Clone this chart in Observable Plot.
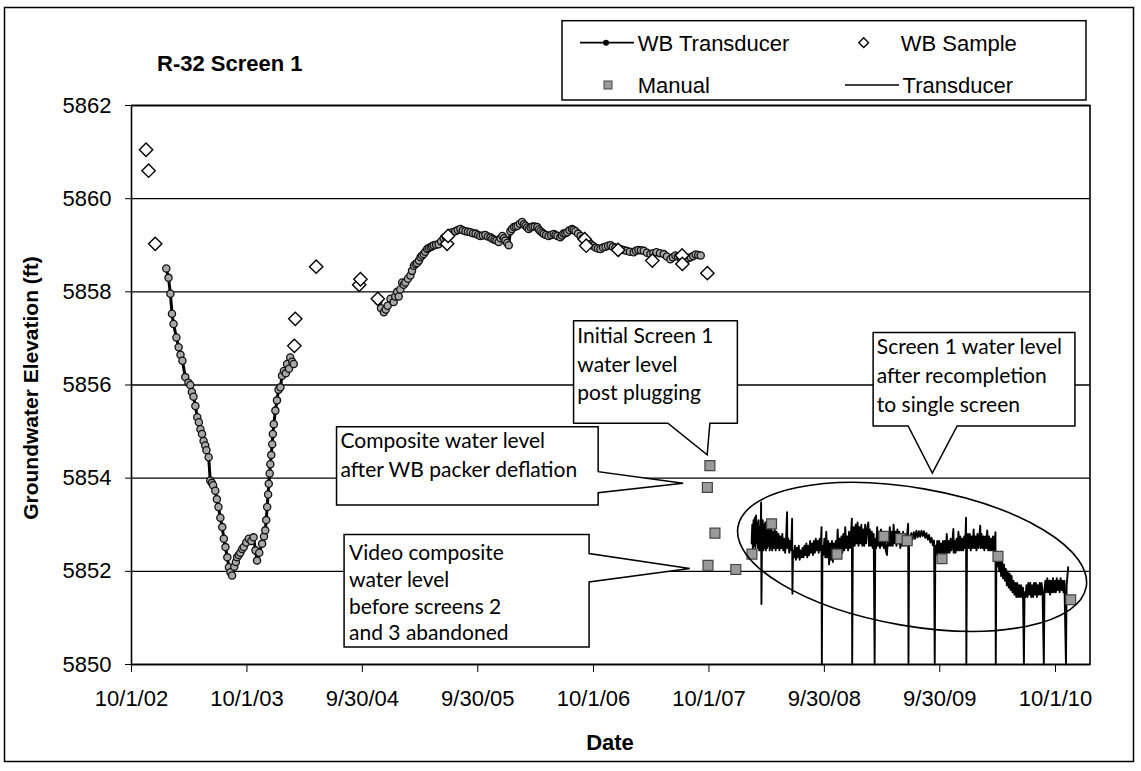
<!DOCTYPE html>
<html>
<head>
<meta charset="utf-8">
<script src="https://cdn.jsdelivr.net/npm/d3@7"></script>
<script src="https://cdn.jsdelivr.net/npm/@observablehq/plot@0.6"></script>
<style>
  body { margin: 0; background: #fff; }
  #chart { position: relative; width: 1141px; height: 771px; }
</style>
</head>
<body>
<div id="chart"></div>
<script>
// ---------------- DATA ----------------
const titleText = "R-32 Screen 1";
const yLabel = "Groundwater Elevation (ft)";
const xLabel = "Date";
const xStart = "2002-10-01";
const xEnd = "2011-01-18";
const yTicks = [5850, 5852, 5854, 5856, 5858, 5860, 5862];
const xTickDates = ["2002-10-01","2003-10-01","2004-09-30","2005-09-30","2006-10-01","2007-10-01","2008-09-30","2009-09-30","2010-10-01"];
const xTickLabels = ["10/1/02","10/1/03","9/30/04","9/30/05","10/1/06","10/1/07","9/30/08","9/30/09","10/1/10"];
const seriesNames = ["WB Transducer", "WB Sample", "Manual", "Transducer"];

// WB Transducer, first deployment [date, elevation]
const wbTransducer1 = [
["2003-01-19",5858.5],["2003-01-26",5858.3],["2003-02-01",5857.96],["2003-02-06",5857.53],["2003-02-11",5857.31],["2003-02-20",5857.02],["2003-02-27",5856.81],["2003-03-05",5856.65],["2003-03-11",5856.52],["2003-03-20",5856.17],["2003-03-30",5856.05],["2003-04-05",5856.0],["2003-04-10",5855.85],["2003-04-15",5855.75],["2003-04-21",5855.55],["2003-04-27",5855.31],["2003-05-02",5855.2],["2003-05-07",5855.05],["2003-05-12",5854.95],["2003-05-17",5854.8],["2003-05-22",5854.7],["2003-05-26",5854.6],["2003-06-02",5854.45],["2003-06-07",5853.95],["2003-06-12",5853.9],["2003-06-16",5853.85],["2003-06-23",5853.73],["2003-06-28",5853.55],["2003-07-03",5853.38],["2003-07-09",5853.15],["2003-07-15",5852.95],["2003-07-20",5852.7],["2003-07-25",5852.52],["2003-07-31",5852.3],["2003-08-05",5852.09],["2003-08-10",5851.98],["2003-08-15",5851.91],["2003-08-22",5852.1],["2003-08-27",5852.2],["2003-08-31",5852.3],["2003-09-05",5852.35],["2003-09-10",5852.4],["2003-09-16",5852.48],["2003-09-21",5852.52],["2003-09-29",5852.62],["2003-10-07",5852.7],["2003-10-15",5852.65],["2003-10-22",5852.73],["2003-10-28",5852.45],["2003-11-02",5852.23],["2003-11-09",5852.4],["2003-11-18",5852.59],["2003-11-24",5852.75],["2003-11-28",5852.88],["2003-12-01",5853.1],["2003-12-04",5853.38],["2003-12-07",5853.65],["2003-12-09",5853.88],["2003-12-12",5854.1],["2003-12-14",5854.3],["2003-12-17",5854.5],["2003-12-20",5854.73],["2003-12-22",5854.95],["2003-12-25",5855.16],["2003-12-30",5855.45],["2004-01-04",5855.67],["2004-01-09",5855.9],["2004-01-15",5855.95],["2004-01-20",5856.2],["2004-01-26",5856.3],["2004-02-01",5856.25],["2004-02-05",5856.45],["2004-02-11",5856.35],["2004-02-15",5856.59],["2004-02-21",5856.5],["2004-02-26",5856.45]
];
// WB Transducer, second deployment [date, elevation]
const wbTransducer2 = [
["2004-11-20",5857.8],["2004-11-28",5857.65],["2004-12-07",5857.56],["2004-12-13",5857.62],["2004-12-19",5857.7],["2004-12-28",5857.85],["2005-01-07",5857.78],["2005-01-12",5857.9],["2005-01-18",5858.0],["2005-01-23",5857.9],["2005-01-28",5858.05],["2005-02-03",5858.2],["2005-02-08",5858.15],["2005-02-13",5858.2],["2005-02-21",5858.28],["2005-03-01",5858.35],["2005-03-06",5858.45],["2005-03-12",5858.56],["2005-03-17",5858.6],["2005-03-22",5858.62],["2005-03-28",5858.67],["2005-04-02",5858.74],["2005-04-07",5858.78],["2005-04-12",5858.81],["2005-04-17",5858.86],["2005-04-23",5858.92],["2005-04-28",5858.94],["2005-05-04",5858.96],["2005-05-09",5858.98],["2005-05-14",5859.0],["2005-05-21",5859.01],["2005-05-29",5859.02],["2005-06-06",5859.08],["2005-06-14",5859.15],["2005-06-21",5859.18],["2005-06-29",5859.2],["2005-07-05",5859.25],["2005-07-11",5859.28],["2005-07-21",5859.3],["2005-07-29",5859.33],["2005-08-06",5859.35],["2005-08-14",5859.32],["2005-08-22",5859.3],["2005-08-30",5859.29],["2005-09-07",5859.28],["2005-09-15",5859.26],["2005-09-23",5859.25],["2005-10-01",5859.22],["2005-10-08",5859.2],["2005-10-16",5859.21],["2005-10-24",5859.22],["2005-11-01",5859.19],["2005-11-09",5859.17],["2005-11-15",5859.14],["2005-11-22",5859.12],["2005-11-28",5859.1],["2005-12-05",5859.07],["2005-12-11",5859.15],["2005-12-17",5859.2],["2005-12-22",5859.15],["2005-12-26",5859.1],["2006-01-01",5859.05],["2006-01-06",5859.0],["2006-01-11",5859.3],["2006-01-16",5859.35],["2006-01-22",5859.39],["2006-01-28",5859.4],["2006-02-03",5859.42],["2006-02-10",5859.46],["2006-02-17",5859.5],["2006-02-23",5859.45],["2006-02-28",5859.42],["2006-03-05",5859.38],["2006-03-10",5859.35],["2006-03-16",5859.38],["2006-03-22",5859.4],["2006-03-29",5859.4],["2006-04-06",5859.39],["2006-04-11",5859.34],["2006-04-16",5859.3],["2006-04-22",5859.27],["2006-04-27",5859.24],["2006-05-04",5859.22],["2006-05-12",5859.2],["2006-05-20",5859.22],["2006-05-28",5859.24],["2006-06-03",5859.22],["2006-06-09",5859.2],["2006-06-18",5859.17],["2006-06-23",5859.21],["2006-06-28",5859.25],["2006-07-04",5859.26],["2006-07-10",5859.28],["2006-07-17",5859.32],["2006-07-25",5859.35],["2006-07-30",5859.33],["2006-08-05",5859.3],["2006-08-13",5859.25],["2006-08-21",5859.2],["2006-08-28",5859.15],["2006-09-05",5859.1],["2006-09-13",5859.06],["2006-09-21",5859.03],["2006-09-29",5858.99],["2006-10-07",5858.95],["2006-10-15",5858.93],["2006-10-23",5858.92],["2006-10-31",5858.95],["2006-11-08",5858.97],["2006-11-16",5858.99],["2006-11-24",5859.0],["2006-12-01",5858.97],["2006-12-09",5858.95],["2006-12-17",5858.93],["2006-12-25",5858.92],["2007-01-03",5858.9],["2007-01-13",5858.88],["2007-01-24",5858.86],["2007-02-05",5858.85],["2007-02-12",5858.88],["2007-02-20",5858.9],["2007-02-28",5858.89],["2007-03-09",5858.88],["2007-03-19",5858.84],["2007-03-30",5858.81],["2007-04-08",5858.83],["2007-04-18",5858.85],["2007-04-29",5858.83],["2007-05-11",5858.81],["2007-05-21",5858.76],["2007-06-01",5858.7],["2007-06-09",5858.74],["2007-06-17",5858.78],["2007-06-25",5858.76],["2007-07-03",5858.74],["2007-07-11",5858.72],["2007-07-19",5858.7],["2007-07-27",5858.72],["2007-08-04",5858.74],["2007-08-12",5858.77],["2007-08-20",5858.8],["2007-08-28",5858.79],["2007-09-05",5858.78]
];
// WB Sample [date, elevation]
const wbSample = [
["2002-11-16",5861.05],["2002-11-24",5860.6],["2002-12-15",5859.03],["2004-02-28",5856.84],["2004-03-02",5857.42],["2004-05-07",5858.54],["2004-09-20",5858.15],["2004-09-24",5858.27],["2004-11-18",5857.85],["2005-06-25",5859.03],["2005-06-28",5859.2],["2006-09-03",5859.13],["2006-09-08",5858.99],["2006-12-18",5858.9],["2007-04-05",5858.67],["2007-07-08",5858.78],["2007-07-09",5858.6],["2007-09-26",5858.4]
];
// Manual [date, elevation]
const manual = [
["2007-10-04",5854.27],["2007-09-26",5853.8],["2007-10-20",5852.82],["2007-09-28",5852.13],["2007-12-25",5852.04],["2008-02-14",5852.37],["2008-04-16",5853.02],["2008-11-09",5852.37],["2009-04-06",5852.75],["2009-05-29",5852.7],["2009-06-19",5852.66],["2009-10-07",5852.27],["2010-04-02",5852.32],["2010-11-18",5851.39]
];
// Transducer [date, elevation]
const transducer = [
["2008-02-13",5852.6],["2008-02-15",5853.0],["2008-02-17",5852.45],["2008-02-19",5853.1],["2008-02-21",5852.55],["2008-02-23",5853.15],["2008-02-25",5852.5],["2008-02-27",5853.2],["2008-02-29",5852.6],["2008-03-02",5853.05],["2008-03-04",5852.5],["2008-03-06",5853.1],["2008-03-08",5852.45],["2008-03-10",5852.95],["2008-03-12",5852.45],["2008-03-14",5853.48],["2008-03-15",5851.3],["2008-03-17",5852.8],["2008-03-19",5853.1],["2008-03-21",5852.45],["2008-03-23",5853.0],["2008-03-25",5852.5],["2008-03-27",5853.05],["2008-03-29",5852.45],["2008-03-31",5852.95],["2008-04-02",5852.5],["2008-04-04",5853.0],["2008-04-06",5852.55],["2008-04-08",5852.95],["2008-04-10",5852.45],["2008-04-12",5852.95],["2008-04-14",5852.5],["2008-04-16",5852.9],["2008-04-18",5852.45],["2008-04-20",5852.85],["2008-04-23",5852.5],["2008-04-26",5852.9],["2008-04-29",5852.45],["2008-05-02",5852.85],["2008-05-05",5852.5],["2008-05-08",5852.8],["2008-05-11",5852.45],["2008-05-14",5852.75],["2008-05-17",5852.5],["2008-05-20",5852.8],["2008-05-23",5852.45],["2008-05-26",5852.7],["2008-05-29",5852.4],["2008-06-01",5852.7],["2008-06-04",5853.27],["2008-06-05",5852.5],["2008-06-08",5852.7],["2008-06-11",5852.4],["2008-06-14",5852.65],["2008-06-17",5852.45],["2008-06-20",5853.13],["2008-06-21",5851.52],["2008-06-23",5852.45],
["2008-06-26",5852.3],["2008-06-29",5852.55],["2008-07-02",5852.25],["2008-07-05",5852.5],["2008-07-08",5852.3],["2008-07-11",5852.55],["2008-07-14",5852.25],["2008-07-17",5852.45],["2008-07-20",5852.3],["2008-07-23",5852.5],["2008-07-26",5852.3],["2008-07-29",5852.55],["2008-08-01",5852.35],["2008-08-04",5852.6],["2008-08-07",5852.3],["2008-08-10",5852.55],["2008-08-13",5852.35],["2008-08-16",5852.65],["2008-08-19",5852.4],["2008-08-22",5852.6],["2008-08-25",5852.35],["2008-08-28",5852.65],["2008-08-31",5852.4],["2008-09-03",5852.7],["2008-09-06",5852.45],["2008-09-09",5852.65],["2008-09-12",5852.4],["2008-09-15",5852.7],["2008-09-18",5852.45],["2008-09-21",5852.95],["2008-09-22",5850.0],["2008-09-24",5852.55],
["2008-09-27",5852.35],["2008-09-30",5852.7],["2008-10-03",5852.3],["2008-10-06",5852.85],["2008-10-09",5852.3],["2008-10-12",5852.65],["2008-10-15",5852.15],["2008-10-18",5852.6],["2008-10-21",5852.25],["2008-10-24",5852.65],["2008-10-27",5852.2],["2008-10-30",5852.6],["2008-11-02",5852.3],["2008-11-05",5852.65],["2008-11-08",5852.35],["2008-11-11",5852.9],["2008-11-14",5852.4],["2008-11-17",5852.7],["2008-11-20",5852.35],["2008-11-23",5852.75],["2008-11-26",5852.4],["2008-11-29",5852.8],["2008-12-02",5852.45],["2008-12-05",5852.95],["2008-12-08",5852.5],["2008-12-11",5852.75],["2008-12-14",5852.45],["2008-12-17",5852.85],["2008-12-20",5852.5],["2008-12-23",5852.8],["2008-12-26",5853.13],["2008-12-27",5850.0],["2008-12-29",5852.6],
["2009-01-01",5852.95],["2009-01-04",5852.55],["2009-01-07",5853.0],["2009-01-10",5852.6],["2009-01-13",5853.05],["2009-01-16",5852.55],["2009-01-19",5852.95],["2009-01-22",5852.6],["2009-01-25",5853.0],["2009-01-28",5852.55],["2009-01-31",5852.9],["2009-02-03",5852.55],["2009-02-06",5853.0],["2009-02-09",5852.6],["2009-02-12",5852.9],["2009-02-16",5853.05],["2009-02-18",5852.55],["2009-02-21",5852.9],["2009-02-24",5852.55],["2009-02-27",5852.85],["2009-03-02",5852.5],["2009-03-05",5852.8],["2009-03-08",5850.0],["2009-03-10",5852.7],
["2009-03-13",5852.5],["2009-03-16",5852.95],["2009-03-19",5852.55],["2009-03-22",5852.85],["2009-03-25",5852.5],["2009-03-28",5852.9],["2009-03-31",5852.55],["2009-04-03",5852.85],["2009-04-06",5852.5],["2009-04-09",5852.8],["2009-04-12",5852.45],["2009-04-16",5852.35],["2009-04-19",5852.8],["2009-04-22",5852.55],["2009-04-25",5852.95],["2009-04-28",5852.55],["2009-05-01",5852.85],["2009-05-04",5852.55],["2009-05-07",5853.0],["2009-05-10",5852.6],["2009-05-13",5852.85],["2009-05-16",5852.55],["2009-05-19",5852.9],["2009-05-22",5852.6],["2009-05-25",5852.85],["2009-05-28",5852.5],["2009-05-31",5852.8],["2009-06-03",5852.55],["2009-06-06",5852.85],["2009-06-09",5852.55],["2009-06-12",5852.8],["2009-06-15",5852.55],["2009-06-18",5852.75],["2009-06-22",5853.02],["2009-06-23",5850.0],["2009-06-25",5852.7],
["2009-06-28",5852.68],["2009-07-02",5852.82],["2009-07-06",5852.68],["2009-07-10",5852.84],["2009-07-14",5852.7],["2009-07-18",5852.87],["2009-07-22",5852.73],["2009-07-26",5852.86],["2009-07-30",5852.74],["2009-08-03",5852.87],["2009-08-07",5852.76],["2009-08-11",5852.86],["2009-08-15",5852.72],["2009-08-19",5852.82],["2009-08-23",5852.68],["2009-08-27",5852.78],["2009-08-31",5852.62],["2009-09-04",5852.72],["2009-09-08",5852.56],["2009-09-12",5852.66],["2009-09-14",5850.0],["2009-09-16",5852.55],
["2009-09-19",5852.35],["2009-09-22",5852.65],["2009-09-25",5852.3],["2009-09-28",5852.65],["2009-10-01",5852.35],["2009-10-04",5852.6],["2009-10-07",5852.25],["2009-10-10",5852.65],["2009-10-13",5852.35],["2009-10-16",5852.65],["2009-10-19",5852.35],["2009-10-22",5852.8],["2009-10-25",5852.4],["2009-10-28",5852.65],["2009-10-31",5852.4],["2009-11-03",5852.7],["2009-11-06",5852.45],["2009-11-09",5852.65],["2009-11-12",5852.91],["2009-11-13",5852.4],["2009-11-16",5852.65],["2009-11-19",5852.4],["2009-11-22",5852.7],["2009-11-25",5852.45],["2009-11-28",5852.85],["2009-12-01",5852.45],["2009-12-04",5852.75],["2009-12-07",5852.45],["2009-12-10",5852.7],["2009-12-13",5852.45],["2009-12-16",5852.75],["2009-12-19",5852.5],["2009-12-22",5853.15],["2009-12-23",5850.0],["2009-12-25",5852.6],
["2009-12-28",5852.8],["2009-12-31",5852.5],["2010-01-03",5852.8],["2010-01-06",5852.45],["2010-01-09",5852.75],["2010-01-12",5852.5],["2010-01-15",5852.9],["2010-01-18",5852.5],["2010-01-21",5852.75],["2010-01-24",5852.45],["2010-01-27",5852.8],["2010-01-30",5852.5],["2010-02-02",5852.75],["2010-02-05",5852.98],["2010-02-06",5852.5],["2010-02-09",5852.8],["2010-02-12",5852.5],["2010-02-15",5852.75],["2010-02-18",5852.45],["2010-02-21",5852.75],["2010-02-24",5852.5],["2010-02-27",5852.88],["2010-03-02",5852.45],["2010-03-05",5852.75],["2010-03-08",5852.45],["2010-03-11",5852.7],["2010-03-14",5852.45],["2010-03-17",5852.75],["2010-03-20",5852.45],["2010-03-25",5852.84],["2010-03-26",5850.0],["2010-03-28",5852.35],
["2010-03-31",5852.1],["2010-04-03",5852.35],["2010-04-06",5852.0],["2010-04-09",5852.3],["2010-04-12",5851.9],["2010-04-15",5852.2],["2010-04-18",5851.85],["2010-04-21",5852.15],["2010-04-24",5851.8],["2010-04-27",5852.05],["2010-04-30",5851.7],["2010-05-03",5852.0],["2010-05-06",5851.65],["2010-05-09",5851.95],["2010-05-12",5851.6],["2010-05-15",5851.9],["2010-05-18",5851.55],["2010-05-21",5851.8],["2010-05-24",5851.5],["2010-05-27",5851.75],["2010-05-30",5851.45],["2010-06-02",5851.75],["2010-06-05",5851.45],["2010-06-08",5851.7],["2010-06-11",5851.45],["2010-06-14",5851.7],["2010-06-17",5851.45],["2010-06-20",5851.65],["2010-06-23",5850.0],["2010-06-25",5851.55],
["2010-06-28",5851.45],["2010-07-01",5851.7],["2010-07-04",5851.45],["2010-07-07",5851.75],["2010-07-10",5851.5],["2010-07-13",5851.75],["2010-07-16",5851.45],["2010-07-19",5851.7],["2010-07-22",5851.45],["2010-07-25",5851.75],["2010-07-28",5851.5],["2010-07-31",5851.75],["2010-08-03",5851.45],["2010-08-06",5851.7],["2010-08-09",5851.5],["2010-08-12",5851.75],["2010-08-15",5851.5],["2010-08-18",5851.75],["2010-08-21",5851.55],["2010-08-25",5850.0],["2010-08-27",5851.6],["2010-08-30",5851.8],["2010-09-02",5851.55],["2010-09-05",5851.85],["2010-09-08",5851.55],["2010-09-11",5851.8],["2010-09-14",5851.5],["2010-09-17",5851.8],["2010-09-20",5851.55],["2010-09-23",5851.85],["2010-09-26",5851.55],["2010-09-29",5851.8],["2010-10-02",5851.55],["2010-10-05",5851.85],["2010-10-08",5851.6],["2010-10-11",5851.8],["2010-10-14",5851.55],["2010-10-17",5851.85],["2010-10-20",5851.6],["2010-10-23",5851.8],["2010-10-26",5851.55],["2010-10-29",5851.8],["2010-11-03",5850.0],["2010-11-05",5851.7],["2010-11-07",5851.85],["2010-11-10",5852.09]
];

// Callout annotations: text and the point each one points to
const calloutTexts = [
  ["Initial Screen 1", "water level", "post plugging"],
  ["Composite water level", "after WB packer deflation"],
  ["Video composite", "water level", "before screens 2", "and 3 abandoned"],
  ["Screen 1 water level", "after recompletion", "to single screen"]
];
const calloutTipDates = ["2007-09-27", "2007-07-13", "2007-08-03", "2009-09-08"];
const calloutTipValues = [5854.49, 5853.88, 5852.05, 5854.1];
// Ellipse around the single-screen record
const ellipseCenterDate = "2009-07-06";
const ellipseCenterValue = 5852.3;

// ---------------- LAYOUT / STYLE ----------------
const W = 1141, H = 771;
const axisFont = "'Liberation Sans', Arial, Helvetica, sans-serif";
const noteFont = "Lato, 'Open Sans', sans-serif";
const calloutLayout = [
  {side: "bottom", l: -133.6, r: 30.2, t: -134, b: -31.7, n1: -39.3, n2: 2.7, tx: 3.7, ty: 22.3, lh: 28.4},
  {side: "right", l: -346.6, r: -85, t: -56.6, b: 21.7, n1: -11.6, n2: 9.4, tx: 4, ty: 21.6, lh: 28.4},
  {side: "right", l: -345.7, r: -100.7, t: -34, b: 78.4, n1: -15, n2: 13.4, tx: 5, ty: 25.7, lh: 26.7},
  {side: "bottom", l: -59.2, r: 142.6, t: -140.4, b: -47, n1: -24.2, n2: 24.8, tx: 3.7, ty: 21.7, lh: 28.8}
];
const ellipseStyle = {rx: 176.7, ry: 69, angle: 9.8};

const toRows = (arr, seg) => arr.map(([d, v]) => ({date: new Date(d), value: v, seg}));
const wbRows = toRows(wbTransducer1, 1).concat(toRows(wbTransducer2, 2));
const sampleRows = toRows(wbSample);
const manualRows = toRows(manual);
const trRows = toRows(transducer);
const tickMap = new Map(xTickDates.map((d, i) => [+new Date(d), xTickLabels[i]]));

const plot = Plot.plot({
  width: W, height: H,
  marginLeft: 131, marginRight: 51.5, marginTop: 105, marginBottom: 107,
  style: {fontFamily: axisFont, fontSize: "22px", background: "white", color: "black", overflow: "visible"},
  x: {type: "utc", domain: [new Date(xStart), new Date(xEnd)]},
  y: {domain: [yTicks[0], yTicks[yTicks.length - 1]]},
  marks: [
    Plot.ruleY(yTicks, {stroke: "black", strokeWidth: 1.3}),
    Plot.frame({stroke: "black", strokeWidth: 1.6}),
    Plot.axisY({ticks: yTicks, tickSize: 6, tickPadding: 14, tickFormat: d => String(d), label: null, fontSize: 22, stroke: "black"}),
    Plot.axisX({ticks: xTickDates.map(d => new Date(d)), tickFormat: d => tickMap.get(+d), tickSize: 8, tickPadding: 18, label: null, fontSize: 22, stroke: "black"}),
    Plot.line(trRows, {x: "date", y: "value", stroke: "black", strokeWidth: 1.9}),
    Plot.line(wbRows, {x: "date", y: "value", z: "seg", stroke: "black", strokeWidth: 3}),
    Plot.dot(wbRows, {x: "date", y: "value", r: 3.6, fill: "#a8a8a8", stroke: "#111", strokeWidth: 1.3}),
    Plot.dot(sampleRows, {x: "date", y: "value", symbol: "diamond2", r: 6, fill: "white", stroke: "black", strokeWidth: 1.4}),
    Plot.dot(manualRows, {x: "date", y: "value", symbol: "square", r: 5.6, fill: "#9a9a9a", stroke: "#444", strokeWidth: 1.2})
  ]
});
document.getElementById("chart").appendChild(plot);

const sx = plot.scale("x"), sy = plot.scale("y");
const X = d => sx.apply(new Date(d));
const Y = v => sy.apply(v);
const svg = d3.select(plot);

// outer chart border
svg.insert("rect", ":first-child")
  .attr("x", 4.5).attr("y", 7.5).attr("width", 1129).attr("height", 754)
  .attr("fill", "white").attr("stroke", "black").attr("stroke-width", 1.5);

// ellipse annotation
const ecx = X(ellipseCenterDate), ecy = Y(ellipseCenterValue);
svg.append("ellipse")
  .attr("cx", ecx).attr("cy", ecy).attr("rx", ellipseStyle.rx).attr("ry", ellipseStyle.ry)
  .attr("transform", `rotate(${ellipseStyle.angle} ${ecx} ${ecy})`)
  .attr("fill", "none").attr("stroke", "black").attr("stroke-width", 1.6);

// callouts
calloutTexts.forEach((lines, i) => {
  const L = calloutLayout[i];
  const tx = X(calloutTipDates[i]), ty = Y(calloutTipValues[i]);
  const l = tx + L.l, r = tx + L.r, t = ty + L.t, b = ty + L.b;
  let d;
  if (L.side === "bottom") {
    d = `M${l},${t}H${r}V${b}H${tx + L.n2}L${tx},${ty}L${tx + L.n1},${b}H${l}Z`;
  } else {
    d = `M${l},${t}H${r}V${ty + L.n1}L${tx},${ty}L${r},${ty + L.n2}V${b}H${l}Z`;
  }
  const g = svg.append("g").attr("text-anchor", "start");
  g.append("path").attr("d", d).attr("fill", "white").attr("stroke", "black").attr("stroke-width", 1.5).attr("stroke-linejoin", "miter");
  lines.forEach((s, k) => {
    g.append("text").attr("x", l + L.tx).attr("y", t + L.ty + k * L.lh)
      .attr("font-family", noteFont).attr("font-size", 21).attr("fill", "black").text(s);
  });
});

// title
svg.append("text").attr("x", 157).attr("y", 70.5).attr("text-anchor", "start")
  .attr("font-family", axisFont).attr("font-size", 22).attr("font-weight", "bold").attr("fill", "black")
  .text(titleText);

// axis titles
svg.append("text").attr("transform", "translate(38,388) rotate(-90)").attr("text-anchor", "middle")
  .attr("font-family", axisFont).attr("font-size", 21).attr("font-weight", "bold").attr("fill", "black")
  .text(yLabel);
svg.append("text").attr("x", 610).attr("y", 750).attr("text-anchor", "middle")
  .attr("font-family", axisFont).attr("font-size", 22).attr("font-weight", "bold").attr("fill", "black")
  .text(xLabel);

// legend
const lg = svg.append("g").attr("font-family", axisFont).attr("font-size", 22).attr("fill", "black").attr("text-anchor", "start");
lg.append("rect").attr("x", 562).attr("y", 20.7).attr("width", 524).attr("height", 79.3)
  .attr("fill", "white").attr("stroke", "black").attr("stroke-width", 1.5);
const r1 = 42.7, r2 = 85;
lg.append("line").attr("x1", 580).attr("x2", 634).attr("y1", r1).attr("y2", r1).attr("stroke", "black").attr("stroke-width", 1.8);
lg.append("circle").attr("cx", 606).attr("cy", r1).attr("r", 3).attr("fill", "black");
lg.append("text").attr("x", 637.8).attr("y", r1 + 7.8).text(seriesNames[0]);
lg.append("path").attr("d", d3.symbol(d3.symbolDiamond2, 60)()).attr("transform", `translate(863.7,${r1})`)
  .attr("fill", "white").attr("stroke", "black").attr("stroke-width", 1.4);
lg.append("text").attr("x", 900.7).attr("y", r1 + 7.8).text(seriesNames[1]);
lg.append("rect").attr("x", 604).attr("y", r2 - 4).attr("width", 8).attr("height", 8)
  .attr("fill", "#9a9a9a").attr("stroke", "#444").attr("stroke-width", 1);
lg.append("text").attr("x", 637.8).attr("y", r2 + 7.8).text(seriesNames[2]);
lg.append("line").attr("x1", 845).attr("x2", 899).attr("y1", r2).attr("y2", r2).attr("stroke", "black").attr("stroke-width", 1.6);
lg.append("text").attr("x", 902.6).attr("y", r2 + 7.8).text(seriesNames[3]);
</script>
</body>
</html>
